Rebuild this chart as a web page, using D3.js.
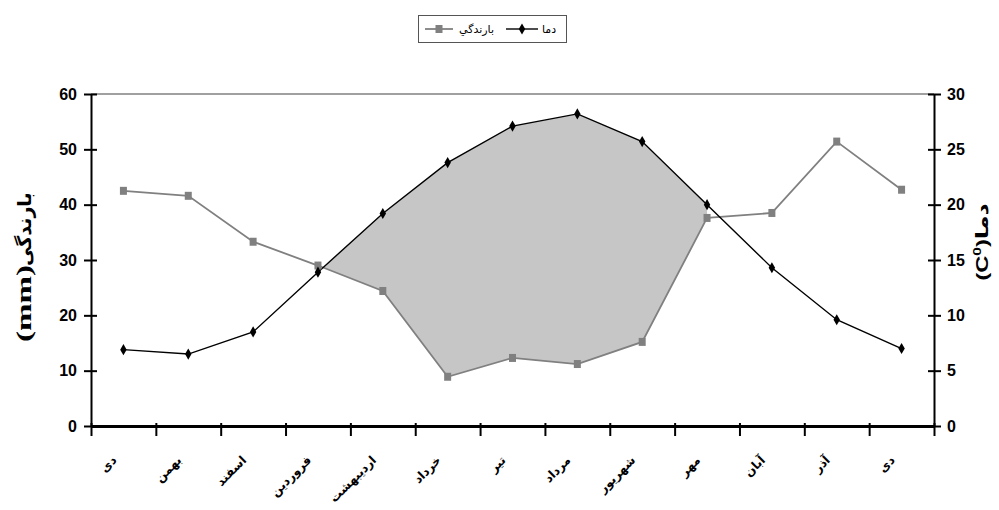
<!DOCTYPE html>
<html>
<head>
<meta charset="utf-8">
<script src="https://cdn.jsdelivr.net/npm/d3@7"></script>
<style>
   body { margin: 0; background: #fff; }
   svg { display: block; }
</style>
</head>
<body>
<div id="chart"></div>
<script>

// MONTH LABELS
var months = ['دی', 'بهمن', 'اسفند', 'فروردین', 'اردیبهشت', 'خرداد', 'تیر', 'مرداد', 'شهریور', 'مهر', 'آبان', 'آذر', 'دی'];

// RAINFALL (mm) -- LEFT AXIS
var rain = [42.5, 41.6, 33.3, 29.0, 24.4, 8.9, 12.3, 11.2, 15.2, 37.6, 38.5, 51.4, 42.7];

// TEMPERATURE (C) -- RIGHT AXIS
var temp = [6.9, 6.5, 8.5, 13.9, 19.2, 23.8, 27.1, 28.2, 25.7, 20.0, 14.3, 9.6, 7.0];

// TICK VALUES
var rainTicks = [0, 10, 20, 30, 40, 50, 60];
var tempTicks = [0, 5, 10, 15, 20, 25, 30];

// CHART SETTINGS
var settings = {
   width: 999,
   height: 510,
   left: 91,
   right: 934,
   top: 94,
   bottom: 426,
   grey: '#808080',
   fill: '#c6c6c6'
};

// CANVAS
var canvas = d3.select('#chart').append('svg')
   .attr('width', settings.width)
   .attr('height', settings.height);

// X-SCALING -- ONE BAND PER MONTH
var xScale = d3.scaleBand()
   .domain(d3.range(months.length))
   .range([settings.left, settings.right]);

var cx = (i) => { return xScale(i) + xScale.bandwidth() / 2 };

// Y-SCALING
var yRain = d3.scaleLinear().domain([0, 60]).range([settings.bottom, settings.top]);
var yTemp = d3.scaleLinear().domain([0, 30]).range([settings.bottom, settings.top]);

// SHADED AREA WHERE TEMPERATURE LIES ABOVE RAINFALL
var hot = d3.range(months.length).filter(i => yTemp(temp[i]) < yRain(rain[i]));
var first = hot[0];

// CROSSING POINT BEFORE FIRST WARM MONTH
var d0 = yRain(rain[first - 1]) - yTemp(temp[first - 1]);
var d1 = yRain(rain[first]) - yTemp(temp[first]);
var t = d0 / (d0 - d1);
var crossX = cx(first - 1) + t * (cx(first) - cx(first - 1));
var crossY = yRain(rain[first - 1]) + t * (yRain(rain[first]) - yRain(rain[first - 1]));

var shade = [{ x: crossX, y0: crossY, y1: crossY }];
hot.forEach(i => { shade.push({ x: cx(i), y0: yRain(rain[i]), y1: yTemp(temp[i]) }) });

var pathify = d3.area()
   .x(d => d.x)
   .y0(d => d.y0)
   .y1(d => d.y1);

canvas.append('path')
   .attr('d', pathify(shade))
   .attr('fill', settings.fill);

// TOP BORDER
canvas.append('line')
   .attr('x1', settings.left).attr('x2', settings.right)
   .attr('y1', settings.top).attr('y2', settings.top)
   .attr('stroke', settings.grey)
   .attr('stroke-width', 1.5);

// LEFT AXIS
var leftAxis = canvas.append('g')
   .attr('transform', 'translate(' + settings.left + ',0)')
   .call(d3.axisLeft(yRain).tickValues(rainTicks).tickSize(7).tickSizeOuter(0));

// RIGHT AXIS
var rightAxis = canvas.append('g')
   .attr('transform', 'translate(' + settings.right + ',0)')
   .call(d3.axisRight(yTemp).tickValues(tempTicks).tickSize(7).tickSizeOuter(0));

// STYLE BOTH Y AXES -- CROSSING TICKS, BOLD LABELS
[leftAxis, rightAxis].forEach(axis => {
   axis.select('.domain').attr('stroke', '#000').attr('stroke-width', 2);
   axis.selectAll('.tick line').attr('stroke', '#000').attr('stroke-width', 2);
   axis.selectAll('.tick text')
      .attr('font-family', 'Liberation Sans, Arial, sans-serif')
      .attr('font-size', 16)
      .attr('font-weight', 'bold')
      .attr('fill', '#000');
});
leftAxis.selectAll('.tick line').attr('x1', 6).attr('x2', -7);
leftAxis.selectAll('.tick text').attr('x', -14);
rightAxis.selectAll('.tick line').attr('x1', -6).attr('x2', 7);
rightAxis.selectAll('.tick text').attr('x', 13);

// BOTTOM AXIS -- TICKS ON BAND EDGES
var xEdge = d3.scaleLinear().domain([0, months.length]).range([settings.left, settings.right]);
var bottomAxis = canvas.append('g')
   .attr('transform', 'translate(0,' + settings.bottom + ')')
   .call(d3.axisBottom(xEdge).tickValues(d3.range(months.length + 1)).tickSize(10).tickSizeOuter(0).tickFormat(''));

bottomAxis.select('.domain').attr('stroke', '#000').attr('stroke-width', 3);
bottomAxis.selectAll('.tick line').attr('stroke', '#000').attr('stroke-width', 2).attr('y1', -3);

// MONTH LABELS -- ROTATED
canvas.append('g').selectAll('text')
   .data(months)
   .enter().append('text')
      .attr('transform', (d, i) => 'translate(' + (cx(i) - 6) + ',' + (settings.bottom + 35) + ') rotate(-45)')
      .attr('text-anchor', 'end')
      .attr('font-family', 'DejaVu Sans, sans-serif')
      .attr('font-size', 12)
      .attr('font-weight', 'bold')
      .text(d => d);

// RAINFALL LINE
var rainLine = d3.line()
   .x((d, i) => cx(i))
   .y(d => yRain(d));

canvas.append('path')
   .attr('d', rainLine(rain))
   .attr('fill', 'none')
   .attr('stroke', settings.grey)
   .attr('stroke-width', 1.8);

// TEMPERATURE LINE
var tempLine = d3.line()
   .x((d, i) => cx(i))
   .y(d => yTemp(d));

canvas.append('path')
   .attr('d', tempLine(temp))
   .attr('fill', 'none')
   .attr('stroke', '#000')
   .attr('stroke-width', 1.4);

// RAINFALL MARKERS -- SQUARES
canvas.append('g').selectAll('rect')
   .data(rain)
   .enter().append('rect')
      .attr('x', (d, i) => cx(i) - 3.5)
      .attr('y', d => yRain(d) - 4)
      .attr('width', 7)
      .attr('height', 8)
      .attr('fill', settings.grey);

// TEMPERATURE MARKERS -- DIAMONDS
var diamond = d3.symbol().type(d3.symbolDiamond).size(36);
canvas.append('g').selectAll('path')
   .data(temp)
   .enter().append('path')
      .attr('d', diamond)
      .attr('transform', (d, i) => 'translate(' + cx(i) + ',' + yTemp(d) + ')')
      .attr('fill', '#000');

// LEFT AXIS TITLE -- UNIT PART, STRETCHED ALONG THE AXIS
canvas.append('text')
   .attr('transform', 'translate(31,342) rotate(-90) scale(1.5,1)')
   .attr('font-family', 'Liberation Serif, serif')
   .attr('font-weight', 'bold')
   .attr('font-size', 22)
   .text('(mm)');

// LEFT AXIS TITLE -- PERSIAN PART
canvas.append('text')
   .attr('transform', 'translate(31,266) rotate(-90)')
   .attr('font-family', 'DejaVu Sans, sans-serif')
   .attr('font-weight', 'bold')
   .attr('font-size', 19)
   .text('بارندگی');

// RIGHT AXIS TITLE
var rightTitle = canvas.append('text')
   .attr('transform', 'translate(988,242) rotate(-90) scale(1.4,1)')
   .attr('text-anchor', 'middle')
   .attr('font-family', 'Liberation Sans, Arial, sans-serif')
   .attr('font-weight', 'bold')
   .attr('font-size', 17);
rightTitle.append('tspan').text('(C');
rightTitle.append('tspan').attr('font-size', 11).attr('dy', -7).text('0');
rightTitle.append('tspan').attr('dy', 7).text(')');
rightTitle.append('tspan').attr('font-family', 'DejaVu Sans, sans-serif').text('دما');

// LEGEND
var legend = canvas.append('g');
legend.append('rect')
   .attr('x', 418.5).attr('y', 15.5)
   .attr('width', 148).attr('height', 27)
   .attr('fill', '#fff')
   .attr('stroke', '#555');

legend.append('line')
   .attr('x1', 425).attr('x2', 453).attr('y1', 29).attr('y2', 29)
   .attr('stroke', settings.grey).attr('stroke-width', 1.8);
legend.append('rect')
   .attr('x', 435.5).attr('y', 25).attr('width', 7).attr('height', 8)
   .attr('fill', settings.grey);
legend.append('text')
   .attr('x', 459).attr('y', 33)
   .attr('font-family', 'DejaVu Sans, sans-serif').attr('font-size', 11)
   .text('بارندگي');

legend.append('line')
   .attr('x1', 506).attr('x2', 538).attr('y1', 29).attr('y2', 29)
   .attr('stroke', '#000').attr('stroke-width', 1.4);
legend.append('path')
   .attr('d', diamond)
   .attr('transform', 'translate(522,29)')
   .attr('fill', '#000');
legend.append('text')
   .attr('x', 542).attr('y', 33)
   .attr('font-family', 'DejaVu Sans, sans-serif').attr('font-size', 11)
   .text('دما');

</script>
</body>
</html>
